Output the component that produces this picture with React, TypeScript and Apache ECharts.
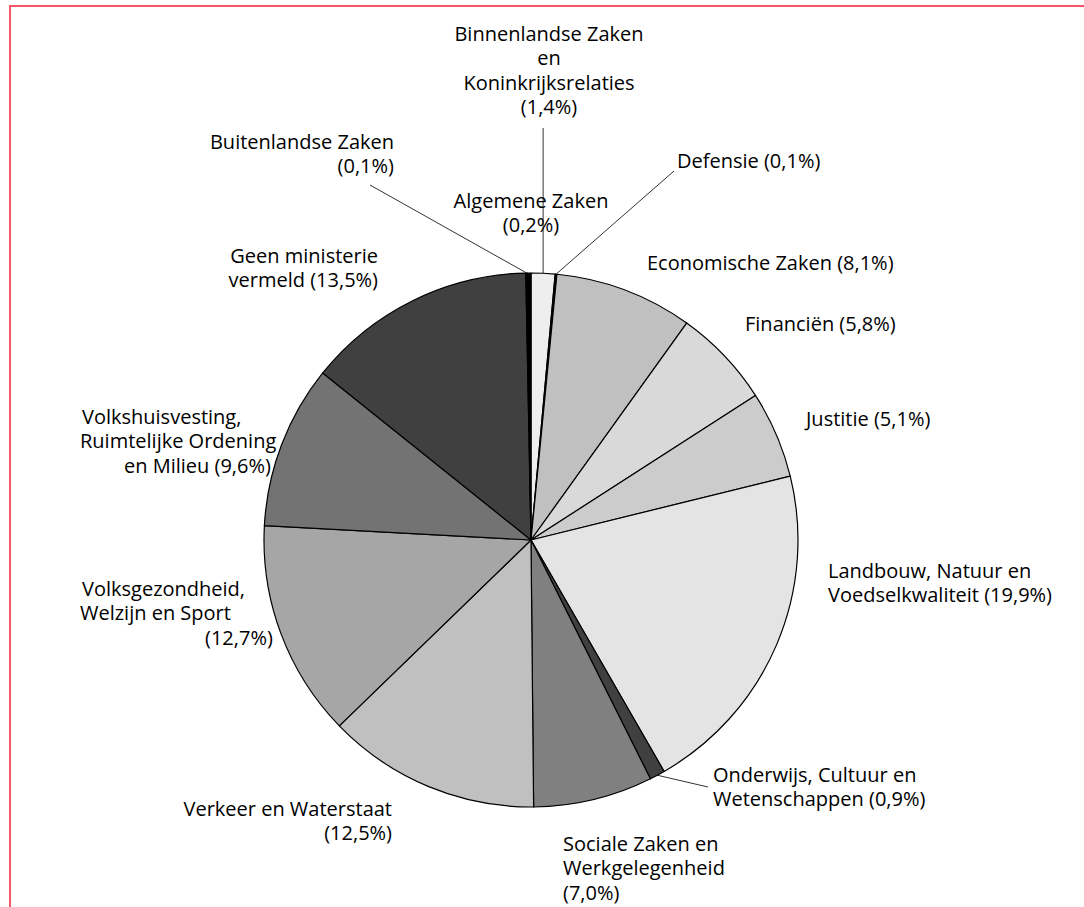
import React, { useEffect, useRef } from "react";
import * as echarts from "echarts";

// Ministries, clockwise from 12 o'clock
const ministries = [
  "Binnenlandse Zaken\nen\nKoninkrijksrelaties",
  "Defensie",
  "Economische Zaken",
  "Financiën",
  "Justitie",
  "Landbouw, Natuur en\nVoedselkwaliteit",
  "Onderwijs, Cultuur en\nWetenschappen",
  "Sociale Zaken en\nWerkgelegenheid",
  "Verkeer en Waterstaat",
  "Volksgezondheid,\nWelzijn en Sport",
  "Volkshuisvesting,\nRuimtelijke Ordening\nen Milieu",
  "Geen ministerie\nvermeld",
  "Buitenlandse Zaken",
  "Algemene Zaken",
];
// percentages as printed
const shares = [1.4, 0.1, 8.1, 5.8, 5.1, 19.9, 0.9, 7.0, 12.5, 12.7, 9.6, 13.5, 0.1, 0.2];
// percentage on its own line?
const pctNewLine = [true, false, false, false, false, false, false, true, true, true, false, false, true, true];
const sliceColors = [
  "#eeeeee", "#000000", "#c0c0c0", "#d9d9d9", "#cccccc", "#e4e4e4", "#404040",
  "#808080", "#c0c0c0", "#a6a6a6", "#737373", "#404040", "#000000", "#000000",
];
const withLine = [true, true, false, false, false, false, true, false, false, false, false, false, true, false];

// label placement (x, top y, align)
const labelPos: [number, number, string][] = [
  [549, 21, "center"],
  [677, 148, "left"],
  [647, 250, "left"],
  [745, 311, "left"],
  [806, 406, "left"],
  [828, 558, "left"],
  [713, 762, "left"],
  [563, 831, "left"],
  [392, 796, "right"],
  [80, 576, "left"],
  [80, 404, "left"],
  [378, 243, "right"],
  [394, 129, "right"],
  [531, 188, "center"],
];
// label line end points (only for labels that have a leader)
const lineEnds: Record<number, [number | null, number]> = {
  0: [null, 128],
  1: [674, 171],
  6: [708, 787],
  12: [370, 185],
};

const FONT = "'Open Sans', 'DejaVu Sans', sans-serif";
const FS = 20;
const LH = 24.5;

function fmt(v: number) {
  return "(" + v.toFixed(1).replace(".", ",") + "%)";
}

export default function App() {
  const ref = useRef<HTMLDivElement>(null);
  useEffect(() => {
    if (!ref.current) return;
    const chart = echarts.init(ref.current, null, { renderer: "svg" });
    const data = ministries.map((name, i) => ({
      name,
      value: shares[i],
      itemStyle: { color: sliceColors[i] },
      labelLine: { show: withLine[i] },
    }));
    const tok = (pad: number) => ({
      fontFamily: FONT,
      fontSize: FS,
      lineHeight: LH,
      color: "#000",
      padding: [0, 0, 0, pad],
    });
    chart.setOption({
      animation: false,
      backgroundColor: "#ffffff",
      graphic: [
        {
          type: "rect",
          shape: { x: 10, y: 6, width: 1200, height: 1100 },
          style: { fill: "none", stroke: "#f5566a", lineWidth: 2 },
          silent: true,
        },
      ],
      series: [
        {
          type: "pie",
          center: [531, 540],
          radius: 267,
          startAngle: 90,
          clockwise: true,
          avoidLabelOverlap: false,
          itemStyle: { borderColor: "#000", borderWidth: 1.2 },
          label: {
            show: true,
            position: "outside",
            color: "#000",
            fontFamily: FONT,
            fontSize: FS,
            lineHeight: LH,
            formatter: (p: any) => {
              const i = p.dataIndex;
              const txt = ministries[i] + (pctNewLine[i] ? "\n" : " ") + fmt(shares[i]);
              if (i === 9) {
                const l = txt.split("\n");
                return `{a|${l[0]}}\n{b|${l[1]}}\n{c|${l[2]}}`;
              }
              if (i === 10) {
                const l = txt.split("\n");
                return `{a|${l[0]}}\n{b|${l[1]}}\n{d|${l[2]}}`;
              }
              return txt;
            },
            rich: {
              a: tok(2),
              b: tok(0),
              c: tok(125),
              d: tok(44),
            },
          },
          labelLine: {
            show: false,
            lineStyle: { color: "#333", width: 1 },
          },
          labelLayout: (params: any) => {
            const i = params.dataIndex;
            const [x, y, align] = labelPos[i];
            const out: any = { x, y, align, verticalAlign: "top" };
            const e = lineEnds[i];
            if (e && params.labelLinePoints && params.labelLinePoints.length) {
              const p0 = params.labelLinePoints[0];
              const ex = e[0] == null ? p0[0] : e[0];
              out.labelLinePoints = [p0, [ex, e[1]], [ex, e[1]]];
            }
            return out;
          },
          data,
        },
      ],
    });
    return () => chart.dispose();
  }, []);
  return (
    <div
      ref={ref}
      style={{ position: "absolute", left: 0, top: 0, width: 1084, height: 907 }}
    />
  );
}
